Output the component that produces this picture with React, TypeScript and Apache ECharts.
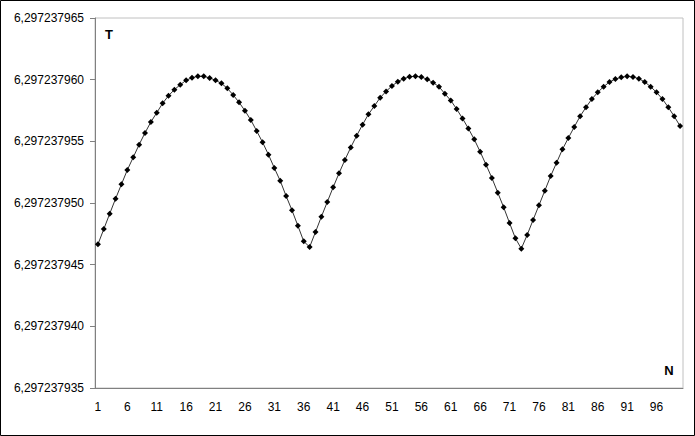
import React, { useEffect, useRef } from "react";
import * as echarts from "echarts";

const categories: string[] = Array.from({ length: 100 }, (_, i) => String(i + 1));

const tValues: number[] = [
  6.29723794665, 6.29723794789, 6.29723794913, 6.29723795035, 6.29723795152,
  6.29723795268, 6.2972379537, 6.29723795473, 6.29723795568, 6.29723795657,
  6.29723795732, 6.29723795808, 6.2972379587, 6.29723795919, 6.29723795959,
  6.29723795995, 6.29723796016, 6.29723796027, 6.29723796027, 6.29723796014,
  6.29723795995, 6.2972379597, 6.2972379593, 6.29723795876, 6.29723795816,
  6.29723795748, 6.29723795673, 6.29723795584, 6.29723795492, 6.29723795392,
  6.29723795284, 6.2972379518, 6.29723795057, 6.29723794941, 6.29723794816,
  6.29723794689, 6.29723794643, 6.29723794765, 6.29723794889, 6.29723795008,
  6.29723795127, 6.29723795241, 6.29723795349, 6.29723795451, 6.29723795546,
  6.29723795635, 6.29723795719, 6.29723795786, 6.29723795854, 6.29723795905,
  6.29723795949, 6.29723795984, 6.29723796008, 6.29723796024, 6.29723796027,
  6.29723796022, 6.29723796003, 6.29723795976, 6.29723795943, 6.29723795886,
  6.29723795832, 6.29723795762, 6.29723795686, 6.29723795604, 6.29723795516,
  6.29723795416, 6.29723795311, 6.29723795203, 6.29723795084, 6.29723794965,
  6.29723794838, 6.29723794714, 6.2972379463, 6.29723794741, 6.29723794862,
  6.29723794981, 6.297237951, 6.29723795219, 6.29723795327, 6.29723795435,
  6.29723795527, 6.29723795616, 6.29723795703, 6.29723795776, 6.29723795843,
  6.29723795897, 6.29723795943, 6.29723795981, 6.29723796005, 6.29723796019,
  6.29723796027, 6.29723796022, 6.29723796008, 6.29723795981, 6.29723795943,
  6.29723795897, 6.29723795843, 6.29723795776, 6.29723795703, 6.29723795624,
];

const yMin = 6.297237935;
const yMax = 6.297237965;
const yStep = 0.000000005;

const fmtY = (v: number) => v.toFixed(9).replace(".", ",");

export default function App() {
  const ref = useRef<HTMLDivElement>(null);
  useEffect(() => {
    document.body.style.margin = "0";
    if (!ref.current) return;
    const chart = echarts.init(ref.current, undefined, { renderer: "svg" });
    chart.setOption({
      animation: false,
      backgroundColor: "#ffffff",
      textStyle: { fontFamily: "Liberation Sans, Arial, sans-serif" },
      grid: {
        left: 95,
        top: 18,
        right: 12,
        bottom: 48,
        show: true,
        borderColor: "#c0c0c0",
        borderWidth: 1,
        containLabel: false,
      },
      xAxis: {
        type: "category",
        data: categories,
        boundaryGap: true,
        axisLine: { lineStyle: { color: "#808080", width: 1 } },
        axisTick: { interval: 4, length: 5, lineStyle: { color: "#808080" } },
        axisLabel: {
          interval: 4,
          color: "#000",
          fontSize: 12,
          margin: 13,
          fontFamily: "Liberation Sans, Arial, sans-serif",
        },
        splitLine: { show: false },
      },
      yAxis: {
        type: "value",
        min: yMin,
        max: yMax,
        interval: yStep,
        axisLine: { show: true, lineStyle: { color: "#808080", width: 1 } },
        axisTick: { show: true, length: 5, lineStyle: { color: "#808080" } },
        axisLabel: {
          color: "#000",
          fontSize: 12,
          margin: 11,
          formatter: fmtY,
          fontFamily: "Liberation Sans, Arial, sans-serif",
        },
        splitLine: { show: false },
      },
      series: [
        {
          type: "line",
          data: tValues,
          symbol: "diamond",
          symbolSize: 6,
          showAllSymbol: true,
          lineStyle: { color: "#333", width: 1 },
          itemStyle: { color: "#000" },
        },
      ],
      graphic: [
        {
          type: "rect",
          shape: { x: 0.5, y: 0.5, width: 694, height: 435 },
          style: { fill: "none", stroke: "#000", lineWidth: 1 },
          silent: true,
        },
        {
          type: "text",
          x: 109,
          y: 34,
          style: {
            text: "T",
            fill: "#000",
            align: "center",
            verticalAlign: "middle",
            font: "bold 13px Liberation Sans, Arial, sans-serif",
          },
        },
        {
          type: "text",
          x: 669,
          y: 370,
          style: {
            text: "N",
            fill: "#000",
            align: "center",
            verticalAlign: "middle",
            font: "bold 13px Liberation Sans, Arial, sans-serif",
          },
        },
      ],
    });
    return () => chart.dispose();
  }, []);
  return <div ref={ref} style={{ width: 695, height: 436 }} />;
}
